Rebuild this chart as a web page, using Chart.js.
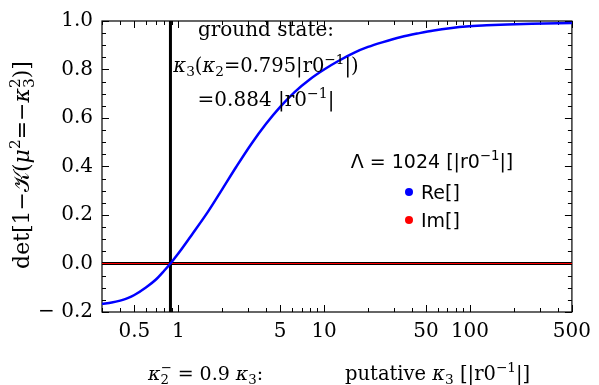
<!DOCTYPE html>
<html>
<head>
<meta charset="utf-8">
<script src="https://cdn.jsdelivr.net/npm/chart.js@4.4.1/dist/chart.umd.min.js"></script>
<style>
  html, body { margin: 0; padding: 0; background: #fff; }
</style>
</head>
<body>
<canvas id="detChart" width="599" height="385"></canvas>
<script>
// putative kappa3 values and Re[det]
const kappa3 = [0.3, 0.35, 0.4, 0.45, 0.5, 0.6, 0.7, 0.8, 0.884, 1.0, 1.25, 1.6, 2, 2.5, 3.16, 4, 5, 6.3, 8, 10, 12.6, 16, 20, 25, 33.7, 45, 56.5, 75, 94, 130, 180, 265, 500];
const reValues = [-0.166, -0.161, -0.153, -0.143, -0.130, -0.099, -0.067, -0.030, 0, 0.041, 0.122, 0.214, 0.306, 0.399, 0.492, 0.576, 0.646, 0.708, 0.760, 0.800, 0.836, 0.869, 0.893, 0.912, 0.934, 0.950, 0.961, 0.971, 0.977, 0.982, 0.986, 0.989, 0.992];
// Im part is zero everywhere
const imKappa3 = [0.3, 500];
const imValues = [0, 0];

const groundStateK3 = 0.884;

const xTicks = [0.3, 0.4, 0.5, 0.6, 0.7, 0.8, 0.9, 1, 2, 3, 4, 5, 6, 7, 8, 9, 10, 20, 30, 40, 50, 60, 70, 80, 90, 100, 200, 300, 400, 500];
const xLabeled = [0.5, 1, 5, 10, 50, 100, 500];
const yTicks = [-0.2, -0.15, -0.1, -0.05, 0, 0.05, 0.1, 0.15, 0.2, 0.25, 0.3, 0.35, 0.4, 0.45, 0.5, 0.55, 0.6, 0.65, 0.7, 0.75, 0.8, 0.85, 0.9, 0.95, 1.0];
const yLabeled = [-0.2, 0, 0.2, 0.4, 0.6, 0.8, 1.0];

const SERIF = '"DejaVu Serif", serif';
const SANS = '"DejaVu Sans", sans-serif';

function isIn(list, v) {
    return list.some(t => Math.abs(t - v) < 1e-9);
}

// draw a run of text pieces; piece = {t, it, sub, sup, stack:[sub,sup]}
function richWidth(ctx, parts, size, family) {
    let w = 0;
    parts.forEach(p => {
        if (p.stack) {
            ctx.font = (size * 0.7) + 'px ' + family;
            w += Math.max(ctx.measureText(p.stack[0]).width, ctx.measureText(p.stack[1]).width);
        } else {
            const s = (p.sub || p.sup) ? size * 0.7 : size;
            ctx.font = (p.it ? 'italic ' : '') + s + 'px ' + family;
            w += ctx.measureText(p.t).width;
        }
    });
    return w;
}

function drawRich(ctx, parts, x, y, size, family, align) {
    const w = richWidth(ctx, parts, size, family);
    let cx = align === 'center' ? x - w / 2 : x;
    ctx.textBaseline = 'alphabetic';
    ctx.textAlign = 'left';
    parts.forEach(p => {
        if (p.stack) {
            ctx.font = (size * 0.7) + 'px ' + family;
            ctx.fillText(p.stack[0], cx, y + size * 0.22);
            ctx.fillText(p.stack[1], cx, y - size * 0.42);
            cx += Math.max(ctx.measureText(p.stack[0]).width, ctx.measureText(p.stack[1]).width);
            return;
        }
        const s = (p.sub || p.sup) ? size * 0.7 : size;
        ctx.font = (p.it ? 'italic ' : '') + s + 'px ' + family;
        let dy = 0;
        if (p.sub) dy = size * 0.22;
        if (p.sup) dy = -size * 0.42;
        ctx.fillText(p.t, cx, y + dy);
        cx += ctx.measureText(p.t).width;
    });
}

// frame, inward ticks, axis lines
const framePlugin = {
    id: 'frame',
    beforeDatasetsDraw(chart) {
        const ctx = chart.ctx;
        const a = chart.chartArea;
        const xs = chart.scales.x;
        const ys = chart.scales.y;
        ctx.save();
        ctx.strokeStyle = '#000';
        ctx.lineWidth = 1.2;
        ctx.strokeRect(a.left, a.top, a.right - a.left, a.bottom - a.top);

        ctx.lineWidth = 1;
        ctx.beginPath();
        xTicks.forEach(v => {
            const px = Math.round(xs.getPixelForValue(v)) + 0.5;
            const len = isIn(xLabeled, v) ? 7 : 4;
            ctx.moveTo(px, a.bottom); ctx.lineTo(px, a.bottom - len);
            ctx.moveTo(px, a.top); ctx.lineTo(px, a.top + len);
        });
        yTicks.forEach(v => {
            const py = Math.round(ys.getPixelForValue(v)) + 0.5;
            const len = isIn(yLabeled, v) ? 7 : 4;
            ctx.moveTo(a.left, py); ctx.lineTo(a.left + len, py);
            ctx.moveTo(a.right, py); ctx.lineTo(a.right - len, py);
        });
        ctx.stroke();

        // zero axis
        const y0 = ys.getPixelForValue(0);
        ctx.lineWidth = 3;
        ctx.beginPath();
        ctx.moveTo(a.left, y0); ctx.lineTo(a.right, y0);
        ctx.stroke();

        // ground state marker
        const xg = xs.getPixelForValue(groundStateK3);
        ctx.lineWidth = 3;
        ctx.beginPath();
        ctx.moveTo(xg, a.top); ctx.lineTo(xg, a.bottom);
        ctx.stroke();
        ctx.restore();
    },
    afterDraw(chart) {
        const ctx = chart.ctx;
        ctx.save();
        ctx.fillStyle = '#000';

        // annotation
        drawRich(ctx, [{ t: 'ground state:' }], 266, 36, 20, SERIF, 'center');
        drawRich(ctx, [
            { t: 'κ', it: true }, { t: '3', sub: true }, { t: '(' },
            { t: 'κ', it: true }, { t: '2', sub: true },
            { t: '=0.795|r0' }, { t: '−1', sup: true }, { t: '|)' }
        ], 266, 72, 19.5, SERIF, 'center');
        drawRich(ctx, [{ t: '=0.884 |r0' }, { t: '−1', sup: true }, { t: '|' }], 266, 106, 20, SERIF, 'center');

        // legend
        drawRich(ctx, [{ t: 'Λ = 1024 [|r0' }, { t: '−1', sup: true }, { t: '|]' }], 432, 168, 19, SANS, 'center');
        ctx.fillStyle = '#0000ff';
        ctx.beginPath(); ctx.arc(409, 192, 4, 0, Math.PI * 2); ctx.fill();
        ctx.fillStyle = '#ff0000';
        ctx.beginPath(); ctx.arc(409, 220, 4, 0, Math.PI * 2); ctx.fill();
        ctx.fillStyle = '#000';
        drawRich(ctx, [{ t: 'Re[]' }], 421, 199, 19, SANS, 'left');
        drawRich(ctx, [{ t: 'Im[]' }], 421, 227, 19, SANS, 'left');

        // x axis labels
        drawRich(ctx, [
            { t: 'κ', it: true }, { stack: ['2', '−'] }, { t: ' = 0.9 ' },
            { t: 'κ', it: true }, { t: '3', sub: true }, { t: ':' }
        ], 148, 380, 19, SERIF, 'left');
        drawRich(ctx, [
            { t: 'putative ' }, { t: 'κ', it: true }, { t: '3', sub: true },
            { t: ' [|r0' }, { t: '−1', sup: true }, { t: '|]' }
        ], 345, 380, 19.5, SERIF, 'left');

        // y axis title
        ctx.translate(29, 165);
        ctx.rotate(-Math.PI / 2);
        drawRich(ctx, [
            { t: 'det[1−' }, { t: '𝒦' }, { t: '(' },
            { t: 'μ', it: true }, { t: '2', sup: true }, { t: '=−' },
            { t: 'κ', it: true }, { stack: ['3', '2'] }, { t: ')]' }
        ], 0, 0, 22, SERIF, 'center');
        ctx.restore();
    }
};

const ctx = document.getElementById('detChart').getContext('2d');
new Chart(ctx, {
    type: 'scatter',
    data: {
        datasets: [
            {
                label: 'Re[]',
                data: kappa3.map((k, i) => ({ x: k, y: reValues[i] })),
                showLine: true,
                borderColor: '#0000ff',
                borderWidth: 2.5,
                pointRadius: 0,
                cubicInterpolationMode: 'monotone'
            },
            {
                label: 'Im[]',
                data: imKappa3.map((k, i) => ({ x: k, y: imValues[i] })),
                showLine: true,
                borderColor: '#ff0000',
                borderWidth: 1.2,
                pointRadius: 0
            }
        ]
    },
    options: {
        responsive: false,
        animation: false,
        devicePixelRatio: 1,
        layout: { padding: { top: 15, right: 19, left: 0, bottom: 0 } },
        plugins: { legend: { display: false }, tooltip: { enabled: false } },
        scales: {
            x: {
                type: 'logarithmic',
                min: 0.3,
                max: 500,
                afterBuildTicks: s => { s.ticks = xTicks.map(v => ({ value: v })); },
                afterFit: s => { s.height = 73; },
                grid: { display: false, drawTicks: false },
                border: { display: false },
                ticks: {
                    autoSkip: false,
                    maxRotation: 0,
                    padding: 8,
                    color: '#000',
                    font: { family: SERIF, size: 20 },
                    callback: v => isIn(xLabeled, v) ? String(v) : ''
                }
            },
            y: {
                min: -0.2,
                max: 1.0,
                afterBuildTicks: s => { s.ticks = yTicks.map(v => ({ value: v })); },
                afterFit: s => { s.width = 102; },
                grid: { display: false, drawTicks: false },
                border: { display: false },
                ticks: {
                    autoSkip: false,
                    padding: 9,
                    color: '#000',
                    font: { family: SERIF, size: 20 },
                    callback: v => isIn(yLabeled, v) ? (v < 0 ? '\u2212 ' + Math.abs(v).toFixed(1) : v.toFixed(1)) : ''
                }
            }
        }
    },
    plugins: [framePlugin]
});
</script>
</body>
</html>
